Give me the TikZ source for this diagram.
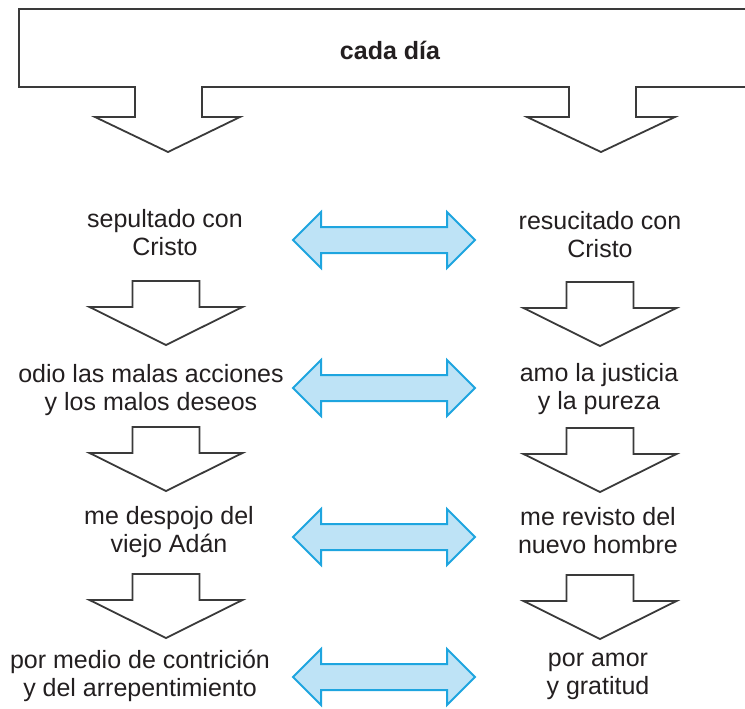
\documentclass[tikz,border=0pt]{standalone}
\usepackage{fontspec}
\setmainfont{Liberation Sans}
\usepackage{tikz}
\usepackage{xcolor}
\usetikzlibrary{calc,positioning}
\definecolor{inkgray}{HTML}{231F20}
\definecolor{edgegray}{HTML}{3A3A3A}
\definecolor{skyline}{HTML}{1EA5DF}
\definecolor{skyfill}{HTML}{BEE3F6}
\tikzset{
    txt/.style={align=center, text=inkgray, font=\fontsize{25}{28}\selectfont, inner sep=0pt},
    blockline/.style={draw=edgegray, line width=1.8pt, fill=white, line join=miter},
    bluearrow/.style={draw=skyline, line width=2pt, fill=skyfill, line join=miter},
    pics/downarrow/.style={code={
        \draw[blockline] (-33.5,0) -- (33.5,0) -- (33.5,26) -- (76.5,26) -- (0,64)
            -- (-76.5,26) -- (-33.5,26) -- cycle;
    }},
    pics/twoway/.style={code={
        \draw[bluearrow] (-91,0) -- (-63,-28) -- (-63,-13) -- (63,-13) -- (63,-28)
            -- (91,0) -- (63,28) -- (63,13) -- (-63,13) -- (-63,28) -- cycle;
    }}
}
\begin{document}
\begin{tikzpicture}[x=1pt, y=-1pt]
                        \useasboundingbox (0,0) rectangle (745,709);
                        \clip (0,0) rectangle (745,709);
                        \draw[blockline] (19,9) -- (770,9) -- (770,87) -- (636,87) -- (636,117)
                            -- (675,117) -- (601,152) -- (527,117) -- (569,117) -- (569,87)
                            -- (202,87) -- (202,117) -- (240,117) -- (168,152) -- (95,117)
                            -- (135,117) -- (135,87) -- (19,87) -- cycle;
                        \node[txt, font=\fontsize{25}{28}\selectfont\bfseries] (cada) at (390,50) {cada día};
                        \node[txt] (l1) at (165,233) {sepultado con\\Cristo};
                        \node[txt] (r1) at (600,235) {resucitado con\\Cristo};
                        \node[txt] (l2) at (151,390) {odio las malas acciones\\y los malos deseos};
                        \node[txt] (r2) at (599,389) {amo la justicia\\y la pureza};
                        \node[txt] (l3) at (169,532) {me despojo del\\viejo Adán};
                        \node[txt] (r3) at (598,531) {me revisto del\\nuevo hombre};
                        \node[txt] (l4) at (140,676) {por medio de contrición\\y del arrepentimiento};
                        \node[txt] (r4) at (598,676) {por amor\\y gratitud};
                        \pic at (166,281) {downarrow};
                        \pic at (600,282) {downarrow};
                        \pic at (166,427) {downarrow};
                        \pic at (600,428) {downarrow};
                        \pic at (166,574) {downarrow};
                        \pic at (600,575) {downarrow};
                        \pic at (384,240) {twoway};
                        \pic at (384,388) {twoway};
                        \pic at (384,537) {twoway};
                        \pic at (384,677) {twoway};
                    \end{tikzpicture}
\end{document}
